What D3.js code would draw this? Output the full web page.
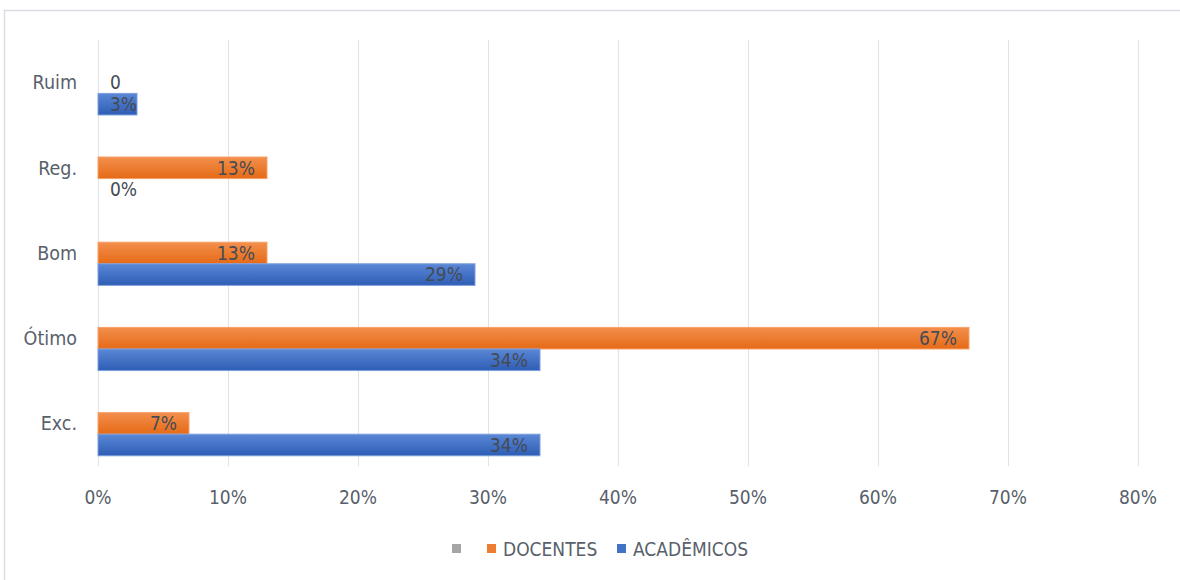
<!DOCTYPE html>
<html>
<head>
<meta charset="utf-8">
<script src="https://cdn.jsdelivr.net/npm/d3@7"></script>
<style>
  body { margin: 0; background: #fff; }
  svg text { font-family: "DejaVu Sans Condensed", "DejaVu Sans", sans-serif; font-stretch: condensed; }
</style>
</head>
<body>
<div id="chart"></div>
<script>
var categories = ["Ruim", "Reg.", "Bom", "Ótimo", "Exc."];
var series = ["", "DOCENTES", "ACADÊMICOS"];
var docentes = [0, 13, 13, 67, 7];
var academicos = [3, 0, 29, 34, 34];
var docentesLabels = ["0", "13%", "13%", "67%", "7%"];
var academicosLabels = ["3%", "0%", "29%", "34%", "34%"];
var xTicks = [0, 10, 20, 30, 40, 50, 60, 70, 80];

var width = 1180,
    height = 580;

var svg = d3.select("#chart").append("svg")
    .attr("width", width)
    .attr("height", height);

// chart border
svg.append("rect")
    .attr("x", 4.5).attr("y", 10.5)
    .attr("width", width).attr("height", height)
    .attr("fill", "none")
    .attr("stroke", "#d9dde3")
    .attr("stroke-width", 1.5);

var defs = svg.append("defs");
function grad(id, top, bottom) {
  var g = defs.append("linearGradient").attr("id", id)
      .attr("x1", 0).attr("y1", 0).attr("x2", 0).attr("y2", 1);
  g.append("stop").attr("offset", "0%").attr("stop-color", top);
  g.append("stop").attr("offset", "100%").attr("stop-color", bottom);
}
grad("gOrange", "#f38f4c", "#e56a16");
grad("gBlue", "#5b87d6", "#2d5db4");

var x = d3.scaleLinear().domain([0, 80]).range([98, 1138]);
var y = d3.scaleBand().domain(categories).range([40, 466])
    .paddingInner(0.24).paddingOuter(0.12);
var ySub = d3.scaleBand().domain(series).range([0, y.bandwidth()]);

// gridlines
svg.append("g").selectAll("line")
    .data(xTicks)
  .enter().append("line")
    .attr("x1", function(d) { return x(d) + 0.5; })
    .attr("x2", function(d) { return x(d) + 0.5; })
    .attr("y1", 40).attr("y2", 466)
    .attr("stroke", "#dfe2e7")
    .attr("stroke-width", 1);

// x tick labels
svg.append("g").selectAll("text")
    .data(xTicks)
  .enter().append("text")
    .attr("x", function(d) { return x(d); })
    .attr("y", 497)
    .attr("dy", "0.35em")
    .attr("text-anchor", "middle")
    .attr("font-size", 19)
    .attr("fill", "#595f6b")
    .text(function(d) { return d + "%"; });

// category labels
svg.append("g").selectAll("text")
    .data(categories)
  .enter().append("text")
    .attr("x", 77)
    .attr("y", function(d) { return y(d) + ySub("DOCENTES") + ySub.bandwidth() / 2; })
    .attr("dy", "0.35em")
    .attr("text-anchor", "end")
    .attr("font-size", 19.5)
    .attr("fill", "#595f6b")
    .text(function(d) { return d; });

var sets = [
  { key: "DOCENTES", values: docentes, labels: docentesLabels, fill: "url(#gOrange)", stroke: "#f7a16a" },
  { key: "ACADÊMICOS", values: academicos, labels: academicosLabels, fill: "url(#gBlue)", stroke: "#7e9fdc" }
];

sets.forEach(function(s) {
  var rows = s.values.map(function(v, i) {
    return { cat: categories[i], value: v, label: s.labels[i] };
  });
  var g = svg.append("g");
  g.selectAll("rect")
      .data(rows.filter(function(d) { return d.value > 0; }))
    .enter().append("rect")
      .attr("x", x(0))
      .attr("y", function(d) { return y(d.cat) + ySub(s.key); })
      .attr("width", function(d) { return x(d.value) - x(0); })
      .attr("height", ySub.bandwidth())
      .attr("fill", s.fill)
      .attr("stroke", s.stroke)
      .attr("stroke-width", 1);

  g.selectAll("text")
      .data(rows)
    .enter().append("text")
      .attr("y", function(d) { return y(d.cat) + ySub(s.key) + ySub.bandwidth() / 2; })
      .attr("dy", "0.36em")
      .attr("text-anchor", "end")
      .attr("font-size", 19)
      .attr("fill", "#454b55")
      .text(function(d) { return d.label; })
      .attr("x", function(d) {
        var w = this.getComputedTextLength();
        return Math.max(x(d.value) - 12, x(0) + 12 + w);
      });
});

// legend
var legend = [
  { name: "", color: "#a5a5a5", x: 452 },
  { name: "DOCENTES", color: "#ed7d31", x: 487 },
  { name: "ACADÊMICOS", color: "#4472c4", x: 617 }
];
var lg = svg.append("g").selectAll("g")
    .data(legend)
  .enter().append("g");
lg.append("rect")
    .attr("x", function(d) { return d.x; })
    .attr("y", 544)
    .attr("width", 9).attr("height", 9)
    .attr("fill", function(d) { return d.color; });
lg.append("text")
    .attr("x", function(d) { return d.x + 16; })
    .attr("y", 549)
    .attr("dy", "0.35em")
    .attr("font-size", 19)
    .attr("fill", "#595f6b")
    .text(function(d) { return d.name; });
</script>
</body>
</html>
